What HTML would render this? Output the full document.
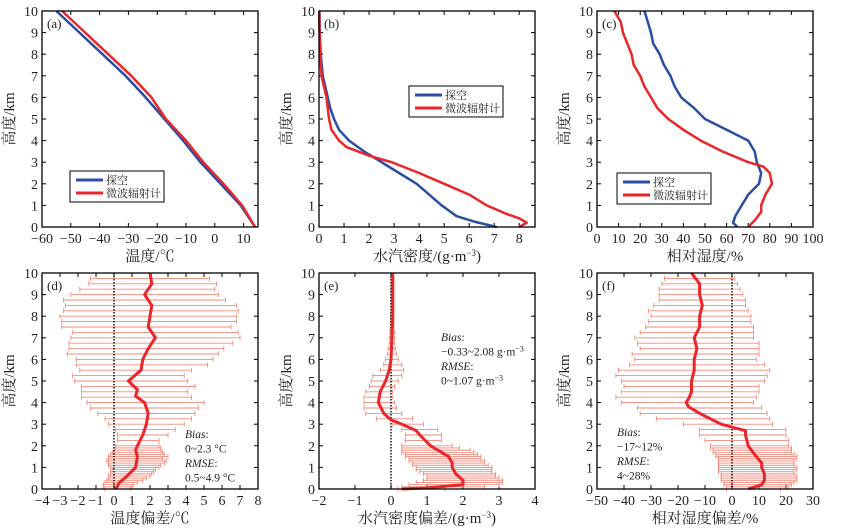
<!DOCTYPE html>
<html><head><meta charset="utf-8"><style>
body{margin:0;background:#fff;width:847px;height:531px;overflow:hidden}
svg{display:block}
text{font-family:"Liberation Serif","Noto Serif CJK SC",serif;fill:#231f20}
.cjk{font-family:"Liberation Serif","Noto Serif CJK SC",serif}
</style></head><body>
<svg id="chart" width="847" height="531"></svg>
<script>
// ---- data ----
const heightsA=[0,1,2,3,4,5,6,7,8,9,10];
const tempSonde=[14,9,2,-5,-11,-17.5,-24,-31,-39,-47,-55];
const tempMwr=[14,9.5,3,-4,-10,-17,-22,-29,-37,-45,-53];
const heightsBs=[0,0.25,0.5,1,1.5,2,2.5,3,3.5,4,4.5,5,5.5,6,7,8,9,10];
const wvSonde=[7.1,6.2,5.5,4.9,4.4,3.9,3.2,2.5,1.8,1.2,0.8,0.6,0.45,0.35,0.15,0.07,0.03,0.02];
const heightsBm=[0,0.2,0.4,0.6,1,1.5,2,2.5,3,3.3,3.7,4,4.5,5,6,7,8,9,10];
const wvMwr=[8.0,8.3,8.0,7.5,6.7,6.0,5.0,4.0,2.9,2.0,1.1,0.8,0.5,0.4,0.3,0.1,0.05,0.02,0.01];
const heightsCs=[0,0.2,0.5,1,1.5,2,2.5,3,3.5,4,4.5,5,5.5,6,6.5,7,7.5,8,8.5,9,10];
const rhSonde=[65,63,64,67,70,75,76,74,73,70,60,50,45,39,36,34,31,29,26,25,22];
const heightsCm=[0,0.3,0.7,1,1.5,2,2.5,2.8,3,3.5,4,4.5,5,5.5,6,6.5,7,7.5,8,8.5,9,9.5,10];
const rhMwr=[70,73,76,76,78,81,80,77,70,58,48,40,33,28,25,22,20,17,16,14,12,11,8];
const heightsD=[0,0.3,0.5,1,1.5,1.8,2,2.5,3,3.5,4,4.3,4.6,5,5.5,6,6.5,7,7.5,8,8.5,9,9.5,10];
const biasT=[0.1,0.3,0.6,1.2,1.3,1.2,1.3,1.6,1.8,1.9,1.7,1.2,1.3,0.8,1.5,1.6,1.9,2.3,1.9,2.0,2.1,1.7,2.1,2.0];
const errH=[0,0.1,0.2,0.3,0.4,0.5,0.6,0.7,0.8,0.9,1,1.1,1.2,1.3,1.4,1.5,1.6,1.7,1.8,1.9,2,2.25,2.5,2.75,3,3.25,3.5,3.75,4,4.25,4.5,4.75,5,5.25,5.5,5.75,6,6.25,6.5,6.75,7,7.25,7.5,7.75,8,8.25,8.5,8.75,9,9.25,9.5,9.75];
const errTlo=[-0.5,-0.6,-0.6,-0.5,-0.4,-0.3,-0.3,-0.2,-0.2,-0.1,-0.2,-0.3,-0.3,-0.4,-0.3,-0.3,-0.2,-0.1,0,0.1,0.1,0.2,0.2,0.1,-0.3,-0.5,-0.9,-1.3,-1.5,-1.8,-1.8,-1.8,-2.2,-2.3,-1.9,-2.1,-2.1,-2.6,-2.5,-2.5,-2.4,-2.3,-2.9,-2.9,-3.0,-2.8,-2.7,-2.8,-2.4,-1.9,-1.4,-1.3];
const errThi=[0.9,1.0,1.1,1.3,1.6,1.8,2.0,2.1,2.2,2.3,2.5,2.6,2.8,2.9,2.7,3.0,2.8,2.7,2.6,2.6,2.5,2.5,3.0,3.4,3.9,4.3,4.5,4.7,5.0,4.3,4.1,4.5,4.1,3.9,4.3,5.2,5.5,5.8,6.1,6.6,7.0,6.9,6.5,6.8,6.8,6.9,6.8,6.2,5.8,5.6,5.7,5.3];
const heightsE=[0,0.05,0.2,0.4,0.7,1,1.2,1.5,2,2.5,2.7,3,3.2,3.5,4,4.5,5,5.5,6,8,10];
const biasWv=[0.3,1.0,2.0,2.0,1.8,1.7,1.7,1.6,1.1,0.8,0.7,0.3,0,-0.2,-0.35,-0.3,-0.15,-0.05,0,0.05,0.05];
const errWlo=[0.2,0.3,0.5,0.7,0.9,1.0,1.0,0.9,0.8,0.7,0.7,0.6,0.6,0.5,0.5,0.4,0.4,0.3,0.3,0.3,0.3,0.4,0.4,0.3,0.05,-0.4,-0.7,-0.75,-0.75,-0.75,-0.7,-0.6,-0.55,-0.5,-0.3,-0.2,-0.15,-0.1,-0.08,-0.05,-0.05,-0.03,-0.02,-0.02,-0.01,0,0,0,0,0,0,0];
const errWhi=[1.5,2.6,3.0,3.1,3.1,3.0,2.9,2.9,2.8,2.8,2.8,2.7,2.6,2.6,2.5,2.5,2.4,2.3,2.2,1.9,1.7,1.4,1.4,1.3,0.9,0.6,0.3,0.15,0.1,0.05,0.05,0.1,0.2,0.3,0.35,0.3,0.2,0.15,0.12,0.1,0.1,0.1,0.08,0.08,0.07,0.07,0.06,0.06,0.05,0.05,0.05,0.05];
const heightsF=[0,0.2,0.4,0.7,1,1.2,1.5,2,2.5,2.7,2.8,3,3.5,3.8,4,4.2,4.5,5,5.5,6,6.5,7,7.5,8,8.5,9,9.5,10];
const biasRh=[6,11,12,12,11,11,9,6,5,5,2,-4,-12,-16,-17,-16,-15,-15,-14,-14,-13,-14,-12,-12,-11,-12,-12,-15];
const errRlo=[-2,-2,-3,-3,-4,-4,-4,-4,-5,-5,-5,-5,-5,-5,-5,-6,-6,-7,-7,-8,-8,-10,-12,-12,-18,-28,-34,-35,-41,-43,-41,-40,-41,-43,-42,-38,-36,-37,-34,-35,-36,-34,-32,-31,-30,-31,-29,-27,-27,-27,-26,-25];
const errRhi=[18,21,22,23,24,24,24,23,23,24,24,23,23,23,24,24,23,22,22,22,21,21,20,20,15,14,13,11,8,9,10,10,12,13,14,12,9,10,10,10,8,8,8,7,7,6,5,5,4,3,2,1];
const yTicks=[0,1,2,3,4,5,6,7,8,9,10];
const xTicksA=[-60,-50,-40,-30,-20,-10,0,10];
const xTicksB=[0,1,2,3,4,5,6,7,8];
const xTicksC=[0,10,20,30,40,50,60,70,80,90,100];
const xTicksD=[-4,-3,-2,-1,0,1,2,3,4,5,6,7,8];
const xTicksE=[-2,-1,0,1,2,3,4];
const xTicksF=[-50,-40,-30,-20,-10,0,10,20,30];

const NS='http://www.w3.org/2000/svg';
const svg=document.getElementById('chart');
function mk(tag,attrs,parent){const e=document.createElementNS(NS,tag);for(const k in attrs)e.setAttribute(k,attrs[k]);(parent||svg).appendChild(e);return e;}
const BLUE='#2b4ea2',RED='#e8262b',ERR='#f08a7c';

function panel(cfg){
  const g=mk('g',{});
  
  
  const L=cfg.L,R=cfg.R,T=cfg.T,B=cfg.B;
  const sx=v=>L+(v-cfg.x0)/(cfg.x1-cfg.x0)*(R-L);
  const sy=h=>B-h/10*(B-T);
  cfg.sx=sx;cfg.sy=sy;cfg.g=g;
  // ticks
  yTicks.forEach(t=>{
    const y=sy(t);
    mk('line',{x1:L,x2:L+4,y1:y,y2:y,stroke:'#000','stroke-width':1},g);
    mk('line',{x1:R,x2:R-4,y1:y,y2:y,stroke:'#000','stroke-width':1},g);
    const tx=mk('text',{x:L-4,y:y+5,'text-anchor':'end','font-size':14},g);tx.textContent=t;
    
    
  });
  cfg.xt.forEach(t=>{
    const x=sx(t);
    mk('line',{x1:x,x2:x,y1:B,y2:B-4,stroke:'#000','stroke-width':1},g);
    mk('line',{x1:x,x2:x,y1:T,y2:T+4,stroke:'#000','stroke-width':1},g);
    const tx=mk('text',{x:x,y:B+16,'text-anchor':'middle','font-size':14},g);
    tx.textContent=t<0?'\u2212'+(-t):t;
    
    
  });
  const yt=mk('text',{x:0,y:0,'text-anchor':'middle','font-size':15,transform:`translate(${L-28},${(T+B)/2}) rotate(-90)`,fill:'#8a4a32'},g);
  yt.textContent='高度/km';
  
  
  const xt=mk('text',{x:(L+R)/2,y:B+34,'text-anchor':'middle','font-size':15},g);
  xt.innerHTML=cfg.xlabel;
  
  
  const pl=mk('text',{x:L+5,y:T+17,'font-size':13},g);pl.textContent=cfg.tag;
  
  
  return cfg;
}
function frame(c){
  const f=mk('rect',{x:c.L,y:c.T,width:c.R-c.L,height:c.B-c.T,fill:'none',stroke:'#000','stroke-width':1.3},c.g);
  
  
}
function line(c,hs,vs,color,w,name){
  const p=mk('polyline',{points:hs.map((h,i)=>c.sx(vs[i])+','+c.sy(h)).join(' '),fill:'none',stroke:color,'stroke-width':w,'stroke-linejoin':'round'},c.g);
  
  
}
function errbars(c,lo,hi){
  errH.forEach((h,i)=>{
    const y=c.sy(h),a=c.sx(lo[i]),b=c.sx(hi[i]);
    const e=mk('g',{stroke:ERR,'stroke-width':0.9},c.g);
    
    
    mk('line',{x1:a,x2:b,y1:y,y2:y},e);
    mk('line',{x1:a,x2:a,y1:y-2.5,y2:y+2.5},e);
    mk('line',{x1:b,x2:b,y1:y-2.5,y2:y+2.5},e);
  });
  const z=mk('line',{x1:c.sx(0),x2:c.sx(0),y1:c.T,y2:c.B,stroke:'#000','stroke-width':1.4,'stroke-dasharray':'1.5,1.5'},c.g);
  
  
}
function legend(c,x,y){
  const g=mk('g',{},c.g);
  
  
  mk('rect',{x:x,y:y,width:94,height:31,fill:'#fff',stroke:'#000','stroke-width':1},g);
  mk('line',{x1:x+6,x2:x+33,y1:y+9,y2:y+9,stroke:BLUE,'stroke-width':3},g);
  mk('line',{x1:x+6,x2:x+33,y1:y+22,y2:y+22,stroke:RED,'stroke-width':3},g);
  const t1=mk('text',{x:x+36,y:y+13,'font-size':11},g);t1.textContent='探空';
  
  
  const t2=mk('text',{x:x+36,y:y+26,'font-size':11},g);t2.textContent='微波辐射计';
  
  
}
function note(c,x,y,lines){
  const g=mk('g',{},c.g);
  
  
  lines.forEach((s,i)=>{const t=mk('text',{x:x,y:y+i*14.5,'font-size':11.5},g);t.innerHTML=s;});
}

const a=panel({name:'panel-a',L:42,R:258,T:11,B:227,x0:-60,x1:15,xt:xTicksA,tag:'(a)',xlabel:'温度/℃'});
line(a,heightsA,tempSonde,BLUE,2.5,'sonde-temperature-line');
line(a,heightsA,tempMwr,RED,2.5,'radiometer-temperature-line');
legend(a,70,171);frame(a);

const b=panel({name:'panel-b',L:319,R:535,T:11,B:227,x0:0,x1:8.63,xt:xTicksB,tag:'(b)',xlabel:'水汽密度/(g·m<tspan dy="-5" font-size="9">−3</tspan><tspan dy="5">)</tspan>'});
line(b,heightsBs,wvSonde,BLUE,2.5,'sonde-vapor-line');
line(b,heightsBm,wvMwr,RED,2.5,'radiometer-vapor-line');
legend(b,409,86);frame(b);

const c=panel({name:'panel-c',L:597,R:813,T:11,B:227,x0:0,x1:100,xt:xTicksC,tag:'(c)',xlabel:'相对湿度/%'});
line(c,heightsCs,rhSonde,BLUE,2.5,'sonde-rh-line');
line(c,heightsCm,rhMwr,RED,2.5,'radiometer-rh-line');
legend(c,617,173);frame(c);

const d=panel({name:'panel-d',L:42,R:258,T:273,B:489,x0:-4,x1:8,xt:xTicksD,tag:'(d)',xlabel:'温度偏差/℃'});
errbars(d,errTlo,errThi);
line(d,heightsD,biasT,RED,3,'temperature-bias-line');
note(d,185,438,['<tspan font-style="italic">Bias</tspan>:','0~2.3 °C','<tspan font-style="italic">RMSE</tspan>:','0.5~4.9 °C']);frame(d);

const e=panel({name:'panel-e',L:319,R:535,T:273,B:489,x0:-2,x1:4,xt:xTicksE,tag:'(e)',xlabel:'水汽密度偏差/(g·m<tspan dy="-5" font-size="9">−3</tspan><tspan dy="5">)</tspan>'});
errbars(e,errWlo,errWhi);
line(e,heightsE,biasWv,RED,3,'vapor-bias-line');
note(e,441,341,['<tspan font-style="italic">Bias</tspan>:','−0.33~2.08 g·m<tspan dy="-4" font-size="8">−3</tspan>','<tspan font-style="italic">RMSE</tspan>:','0~1.07 g·m<tspan dy="-4" font-size="8">−3</tspan>']);frame(e);

const f=panel({name:'panel-f',L:597,R:813,T:273,B:489,x0:-50,x1:30,xt:xTicksF,tag:'(f)',xlabel:'相对湿度偏差/%'});
errbars(f,errRlo,errRhi);
line(f,heightsF,biasRh,RED,3,'rh-bias-line');
note(f,617,436,['<tspan font-style="italic">Bias</tspan>:','−17~12%','<tspan font-style="italic">RMSE</tspan>:','4~28%']);frame(f);
</script>
</body></html>
